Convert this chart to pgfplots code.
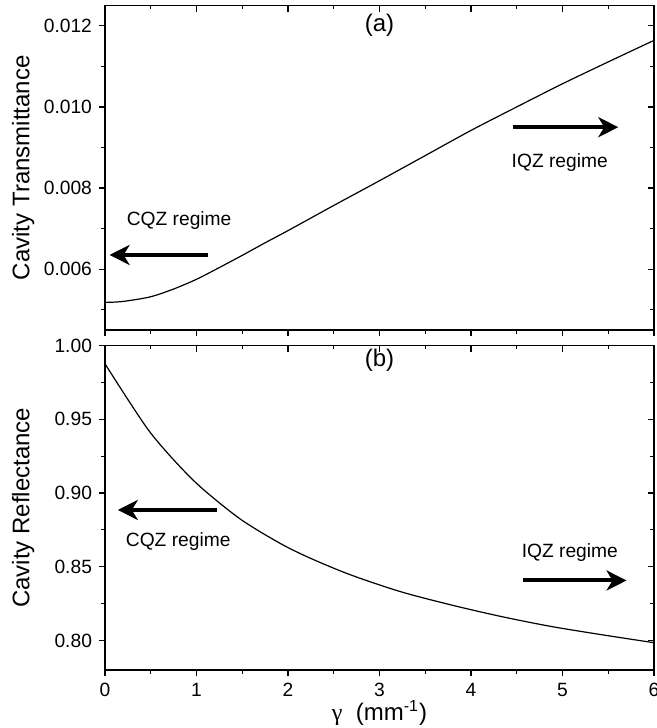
\documentclass[border=0pt]{standalone}
\usepackage{pgfplots}
\pgfplotsset{compat=1.18}
\usepackage{pgfplotstable}
\usepackage{fontspec}
\setmainfont{Liberation Sans}
\newfontfamily\serifgr{Liberation Serif}
\usetikzlibrary{arrows.meta}

\newcommand{\tickfont}{\fontsize{9.6}{11}\selectfont}
\pgfplotsset{
  base/.style={
    scale only axis, width=274.5pt, height=162.25pt,
    xmin=0, xmax=6,
    xtick={0,1,2,3,4,5,6},
    minor xtick={0.5,1.5,2.5,3.5,4.5,5.5},
    major tick length=3pt, minor tick length=1.8pt,
    axis line style={line width=0.6pt},
    every tick/.style={black, line width=0.6pt},
    label style={font=\fontsize{12}{14}\selectfont},
    scaled ticks=false,
  },
  mainax/.style={base, xtick pos=bottom, ytick pos=left, tick align=outside},
  mirror/.style={base, xtick pos=top, ytick pos=right, tick align=inside,
    xticklabels={}, yticklabels={}},
  topy/.style={ymin=0.0045, ymax=0.0125, ytick={0.006,0.008,0.010,0.012},
    minor ytick={0.005,0.007,0.009,0.011}},
  boty/.style={ymin=0.78, ymax=1.00, ytick={0.80,0.85,0.90,0.95,1.00},
    minor ytick={0.825,0.875,0.925,0.975}},
}

\pgfplotstableread{
x y
0 0.00518
0.125 0.00519
0.25 0.00522
0.5 0.00532
0.75 0.00551
1.0 0.00575
1.25 0.00604
1.5 0.00634
1.75 0.00665
2.0 0.00695
2.5 0.00757
3.0 0.00818
3.5 0.00880
4.0 0.00942
4.5 0.01000
5.0 0.01057
5.5 0.01111
6.0 0.01164
}\toptable

\pgfplotstableread{
x y
0 0.9876
0.25 0.9634
0.49 0.9414
0.75 0.9225
1.04 0.9043
1.475 0.8825
1.91 0.8660
2.24 0.8559
2.68 0.8446
3.22 0.8333
3.77 0.8243
4.32 0.8164
4.86 0.8097
5.41 0.8041
6.0 0.7985
}\bottable

\begin{document}
\begin{tikzpicture}
% bottom panel
\begin{axis}[mainax, boty, at={(0,0)}, anchor=south west,
  xticklabels={\tickfont 0,\tickfont 1,\tickfont 2,\tickfont 3,\tickfont 4,\tickfont 5,\tickfont 6},
  yticklabels={\tickfont 0.80,\tickfont 0.85,\tickfont 0.90,\tickfont 0.95,\tickfont 1.00},
  xlabel={{\serifgr γ}\ \ (mm\textsuperscript{-1})},
  xlabel style={at={(axis description cs:0.5,0)}, anchor=center, yshift=-21.5pt},
  ylabel={Cavity Reflectance},
  ylabel style={at={(axis description cs:-0.149,0.5)}, anchor=center},
]
\addplot[black, line width=0.6pt, smooth] table[x=x,y=y] {\bottable};
\node[font=\fontsize{12}{14}\selectfont] at (axis cs:3.0,0.9899) {(b)};
\node[font=\fontsize{9.6}{11}\selectfont] at (axis cs:0.80,0.867) {CQZ regime};
\node[font=\fontsize{9.6}{11}\selectfont] at (axis cs:5.08,0.8593) {IQZ regime};
\draw[line width=2pt, -{Stealth[length=10pt,width=10pt,inset=3pt]}] (axis cs:1.22,0.8885) -- (axis cs:0.14,0.8885);
\draw[line width=2pt, -{Stealth[length=10pt,width=10pt,inset=3pt]}] (axis cs:4.57,0.8407) -- (axis cs:5.70,0.8407);
\end{axis}
\begin{axis}[mirror, boty, at={(0,0)}, anchor=south west]
\end{axis}
% top panel
\begin{axis}[mainax, topy, at={(0,170pt)}, anchor=south west,
  xticklabels={},
  yticklabels={\tickfont 0.006,\tickfont 0.008,\tickfont 0.010,\tickfont 0.012},
  ylabel={Cavity Transmittance},
  ylabel style={at={(axis description cs:-0.149,0.5)}, anchor=center},
]
\addplot[black, line width=0.6pt, smooth] table[x=x,y=y] {\toptable};
\node[font=\fontsize{12}{14}\selectfont] at (axis cs:3.0,0.0120) {(a)};
\node[font=\fontsize{9.6}{11}\selectfont] at (axis cs:0.81,0.00719) {CQZ regime};
\node[font=\fontsize{9.6}{11}\selectfont] at (axis cs:4.97,0.00863) {IQZ regime};
\draw[line width=2pt, -{Stealth[length=10pt,width=10pt,inset=3pt]}] (axis cs:1.13,0.00635) -- (axis cs:0.05,0.00635);
\draw[line width=2pt, -{Stealth[length=10pt,width=10pt,inset=3pt]}] (axis cs:4.46,0.0095) -- (axis cs:5.61,0.0095);
\end{axis}
\begin{axis}[mirror, topy, at={(0,170pt)}, anchor=south west]
\end{axis}
\pgfresetboundingbox
\path (-52.5pt,-29pt) rectangle (276pt,335pt);
\end{tikzpicture}
\end{document}
